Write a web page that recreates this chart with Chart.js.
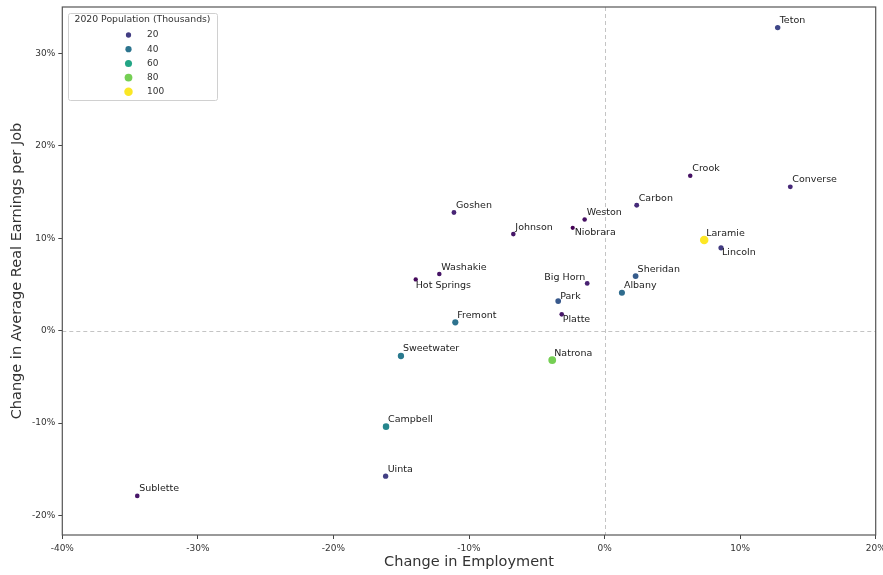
<!DOCTYPE html>
<html>
<head>
<meta charset="utf-8">
<script src="https://cdn.jsdelivr.net/npm/chart.js@4.4.1/dist/chart.umd.min.js"></script>
<style>
  html, body { margin: 0; padding: 0; background: #fff; }
  #wrap { width: 883px; height: 575px; }
</style>
</head>
<body>
<div id="wrap"><canvas id="c" width="883" height="575"></canvas></div>
<script>
// Wyoming counties: change in employment vs change in average real earnings per job (%)
const counties = ["Teton", "Crook", "Converse", "Carbon", "Goshen", "Weston", "Niobrara", "Johnson",
  "Laramie", "Lincoln", "Sheridan", "Washakie", "Hot Springs", "Big Horn", "Albany", "Park",
  "Platte", "Fremont", "Sweetwater", "Natrona", "Campbell", "Uinta", "Sublette"];
const employmentChange = [12.77, 6.32, 13.70, 2.37, -11.11, -1.47, -2.35, -6.73,
  7.35, 8.59, 2.29, -12.19, -13.93, -1.28, 1.28, -3.42,
  -3.16, -11.01, -15.02, -3.86, -16.12, -16.15, -34.47];
const earningsChange = [32.77, 16.74, 15.55, 13.57, 12.78, 12.03, 11.12, 10.44,
  9.79, 8.96, 5.90, 6.12, 5.54, 5.11, 4.10, 3.20,
  1.76, 0.90, -2.74, -3.18, -10.38, -15.74, -17.87];
// 2020 population, thousands
const population = [23.331, 7.181, 13.751, 14.537, 12.498, 6.838, 2.467, 8.447,
  100.512, 19.581, 30.921, 7.685, 4.621, 11.521, 37.066, 29.624,
  8.605, 39.234, 42.272, 79.955, 47.026, 20.450, 8.728];

const xTicks = [-40, -30, -20, -10, 0, 10, 20];
const yTicks = [-20, -10, 0, 10, 20, 30];
const legendValues = [20, 40, 60, 80, 100];
const legendTitle = "2020 Population (Thousands)";

// label placement relative to each point: [dx, dy, textAlign]
const labelPlacement = {
  "Niobrara": [2, 5, "left"], "Lincoln": [1, 5, "left"], "Hot Springs": [0, 6, "left"],
  "Platte": [1, 5, "left"], "Big Horn": [-2, -6, "right"], "Park": [2, -5, "left"]
};
const defaultPlacement = [2, -7, "left"];

const FONT = "'DejaVu Sans', sans-serif";

// viridis colour map
const VIRIDIS = ["#440154", "#482475", "#414487", "#355f8d", "#2a788e", "#21918c",
  "#22a884", "#44bf70", "#7ad151", "#bddf26", "#fde725"];
function hexToRgb(h) { return [1, 3, 5].map(i => parseInt(h.substr(i, 2), 16)); }
function viridis(t) {
  t = Math.max(0, Math.min(1, t));
  const p = t * (VIRIDIS.length - 1), i = Math.min(Math.floor(p), VIRIDIS.length - 2), f = p - i;
  const a = hexToRgb(VIRIDIS[i]), b = hexToRgb(VIRIDIS[i + 1]);
  const c = a.map((v, k) => Math.round(v + (b[k] - v) * f));
  return `rgb(${c[0]},${c[1]},${c[2]})`;
}
const popMin = Math.min(...population), popMax = Math.max(...population);
const norm = v => (v - popMin) / (popMax - popMin);
const colorFor = v => viridis(norm(v));
const radiusFor = v => 0.5 * Math.sqrt(18 + 54 * Math.max(0, Math.min(1, norm(v))));

const points = counties.map((c, i) => ({ x: employmentChange[i], y: earningsChange[i] }));

const decorations = {
  id: "decorations",
  beforeDatasetsDraw(chart) {
    const { ctx, chartArea: a, scales: { x, y } } = chart;
    ctx.save();
    ctx.strokeStyle = "#c4c4c4";
    ctx.lineWidth = 1;
    ctx.setLineDash([4, 3]);
    const x0 = Math.round(x.getPixelForValue(0)) + 0.5;
    const y0 = Math.round(y.getPixelForValue(0)) + 0.5;
    ctx.beginPath();
    ctx.moveTo(x0, a.top); ctx.lineTo(x0, a.bottom);
    ctx.moveTo(a.left, y0); ctx.lineTo(a.right, y0);
    ctx.stroke();
    ctx.restore();
  },
  afterDatasetsDraw(chart) {
    const { ctx } = chart;
    const meta = chart.getDatasetMeta(0);
    ctx.save();
    ctx.font = `9.5px ${FONT}`;
    ctx.fillStyle = "#222";
    ctx.textBaseline = "middle";
    meta.data.forEach((el, i) => {
      const pl = labelPlacement[counties[i]] || defaultPlacement;
      ctx.textAlign = pl[2];
      ctx.fillText(counties[i], el.x + pl[0], el.y + pl[1]);
    });
    ctx.restore();
  },
  afterDraw(chart) {
    const { ctx, chartArea: a } = chart;
    ctx.save();
    // axes frame
    ctx.strokeStyle = "#555";
    ctx.lineWidth = 1.2;
    ctx.strokeRect(a.left, a.top, a.right - a.left, a.bottom - a.top);
    // population legend
    const bx = 68, by = 13, bw = 149, bh = 87;
    ctx.fillStyle = "rgba(255,255,255,0.85)";
    ctx.strokeStyle = "#d0d0d0";
    ctx.lineWidth = 1;
    ctx.beginPath();
    ctx.roundRect(bx + 0.5, by + 0.5, bw, bh, 2);
    ctx.fill();
    ctx.stroke();
    ctx.fillStyle = "#333";
    ctx.font = `9.3px ${FONT}`;
    ctx.textBaseline = "middle";
    ctx.textAlign = "center";
    ctx.fillText(legendTitle, bx + bw / 2, by + 6.5);
    ctx.font = `9px ${FONT}`;
    ctx.textAlign = "left";
    legendValues.forEach((v, i) => {
      const cy = by + 22 + i * 14.2;
      ctx.fillStyle = colorFor(v);
      ctx.beginPath();
      ctx.arc(128.5, cy, radiusFor(v), 0, Math.PI * 2);
      ctx.fill();
      ctx.fillStyle = "#333";
      ctx.fillText(String(v), 147, cy);
    });
    ctx.restore();
  }
};

new Chart(document.getElementById("c"), {
  type: "scatter",
  data: {
    datasets: [{
      data: points,
      pointBackgroundColor: population.map(colorFor),
      pointRadius: population.map(radiusFor),
      pointBorderWidth: 0,
      pointHoverRadius: population.map(radiusFor)
    }]
  },
  options: {
    responsive: false,
    devicePixelRatio: 1,
    animation: false,
    layout: { padding: { top: 7, right: 7.3, left: 0, bottom: 0 } },
    plugins: { legend: { display: false }, tooltip: { enabled: false } },
    scales: {
      x: {
        type: "linear",
        min: -40, max: 20,
        afterBuildTicks: s => { s.ticks = xTicks.map(v => ({ value: v })); },
        afterFit: s => { s.height = 40; s.paddingLeft = 0; s.paddingRight = 0; },
        ticks: { callback: v => v + "%", font: { family: FONT, size: 9 }, color: "#333", padding: 4, maxRotation: 0, autoSkip: false },
        grid: { drawOnChartArea: false, drawTicks: true, tickLength: 4, color: "#444" },
        border: { display: false },
        title: { display: true, text: "Change in Employment", font: { family: FONT, size: 14.5 }, color: "#333", padding: { top: 0, bottom: 4 } }
      },
      y: {
        type: "linear",
        min: -22.1, max: 35,
        afterBuildTicks: s => { s.ticks = yTicks.map(v => ({ value: v })); },
        afterFit: s => { s.width = 62.3; s.paddingTop = 0; s.paddingBottom = 0; },
        ticks: { callback: v => v + "%", font: { family: FONT, size: 9 }, color: "#333", padding: 3, autoSkip: false },
        grid: { drawOnChartArea: false, drawTicks: true, tickLength: 4, color: "#444" },
        border: { display: false },
        title: { display: true, text: "Change in Average Real Earnings per Job", font: { family: FONT, size: 14.5 }, color: "#333", padding: { top: 9, bottom: 0 } }
      }
    }
  },
  plugins: [decorations]
});
</script>
</body>
</html>
